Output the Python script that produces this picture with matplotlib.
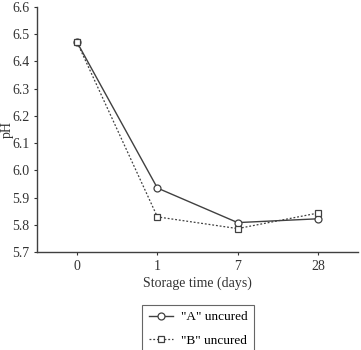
import matplotlib
matplotlib.use("Agg")
import matplotlib.pyplot as plt

# datos
dias = ["0", "1", "7", "28"]
ph_a = [6.47, 5.935, 5.808, 5.822]
ph_b = [6.47, 5.829, 5.786, 5.843]
yticks = [5.7, 5.8, 5.9, 6.0, 6.1, 6.2, 6.3, 6.4, 6.5, 6.6]

plt.rcParams['font.family'] = ['Liberation Serif', 'DejaVu Serif']
gris = '#404040'

fig = plt.figure(figsize=(3.61, 3.5), dpi=100)
ax = fig.add_axes([37/361, 98/350, 321/361, 245/350])

x = range(len(dias))
ax.plot(x, ph_a, color=gris, lw=1.0, marker='o', ms=5, mfc='white', mec=gris, mew=0.9, label='"A" uncured')
ax.plot(x, ph_b, color=gris, lw=0.9, ls=(0, (1.5, 1.5)), marker='s', ms=4.5, mfc='white', mec=gris, mew=0.9, label='"B" uncured')

ax.set_xlim(-0.5, 3.5)
ax.set_ylim(5.7, 6.6)
ax.set_xticks(list(x))
ax.set_xticklabels(dias)
ax.set_yticks(yticks)
ax.set_yticklabels([f"{v:.1f}" for v in yticks])
ax.set_xlabel("Storage time (days)", fontsize=10, color='#333333', labelpad=3)
ax.set_ylabel("pH", fontsize=10, color='#333333')
ax.yaxis.set_label_coords(-23/321, 0.5)
ax.tick_params(labelsize=10, colors='#333333', length=2.5, width=0.8, pad=3)
for s in ['top', 'right']:
    ax.spines[s].set_visible(False)
for s in ['left', 'bottom']:
    ax.spines[s].set_color(gris)
    ax.spines[s].set_linewidth(1.0)

leg = fig.legend(loc='upper center', bbox_to_anchor=(198/361, 1 - 298/350), fontsize=9.5,
                 frameon=True, fancybox=False, edgecolor=gris, handlelength=1.8,
                 handletextpad=0.6, borderpad=0.5, labelspacing=0.85)
leg.get_frame().set_linewidth(0.8)

fig.savefig("out.png", dpi=100)
